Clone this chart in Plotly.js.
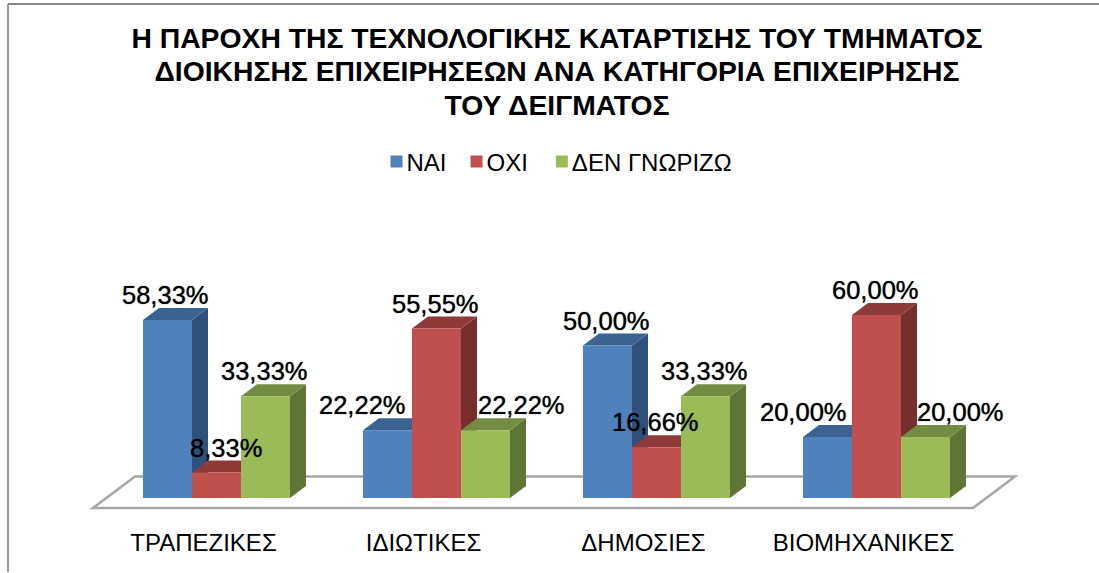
<!DOCTYPE html>
<html><head><meta charset="utf-8">
<script src="https://cdn.plot.ly/plotly-3.0.1.min.js"></script>
<style>html,body{margin:0;padding:0;background:#fff}#c{width:1099px;height:573px}</style>
</head><body><div id="c"></div>
<script>
const categories = ["ΤΡΑΠΕΖΙΚΕΣ","ΙΔΙΩΤΙΚΕΣ","ΔΗΜΟΣΙΕΣ","ΒΙΟΜΗΧΑΝΙΚΕΣ"];
const seriesNames = ["ΝΑΙ","ΟΧΙ","ΔΕΝ ΓΝΩΡΙΖΩ"];
const nai = [58.33,22.22,50.00,20.00];
const ochi = [8.33,55.55,16.66,60.00];
const dg = [33.33,22.22,33.33,20.00];
const titleText = "Η ΠΑΡΟΧΗ ΤΗΣ ΤΕΧΝΟΛΟΓΙΚΗΣ ΚΑΤΑΡΤΙΣΗΣ ΤΟΥ ΤΜΗΜΑΤΟΣ<br>ΔΙΟΙΚΗΣΗΣ ΕΠΙΧΕΙΡΗΣΕΩΝ ΑΝΑ ΚΑΤΗΓΟΡΙΑ ΕΠΙΧΕΙΡΗΣΗΣ<br>ΤΟΥ ΔΕΙΓΜΑΤΟΣ";

const series = [nai, ochi, dg];
const front = ["#4f81bd","#c0504d","#9bbb59"];
const topC = ["#3a6391","#8e3a38","#738c42"];
const sideC = ["#2f507a","#772f2d","#5f7536"];
const FONT='Liberation Sans, Arial, sans-serif';
const W=1099,H=573, L=80,R=1030,T=270,B=512, base=498, pxX=220, pxY=3.05, cx0=216.5;
const bw=49/pxX, dx=16/pxX, dy=12/pxY;
const xr=[(L-cx0)/pxX,(R-cx0)/pxX], yr=[(base-B)/pxY,(base-T)/pxY];
// manual label placement of the original chart, in px relative to bar centre
const labelShift=[[-2,9,-1],[-25,-1,36],[-1,-1,-1],[-24,-1,35]];
const tickShift=-13/pxX;

const shapes=[];
const px=x=>(x-cx0)/pxX, py=y=>(base-y)/pxY;
shapes.push({type:'path',layer:'below',xref:'x',yref:'y',
  path:`M${px(135)},${py(476.5)} L${px(1015)},${py(476.5)} L${px(973)},${py(508)} L${px(93)},${py(508)} Z`,
  fillcolor:'#fff',line:{color:'#a6a6a6',width:2.5}});
series.forEach((vals,s)=>{
  vals.forEach((v,c)=>{
    const x0=c+(s-1.5)*bw, x1=x0+bw;
    shapes.push({type:'path',layer:'below',xref:'x',yref:'y',line:{width:0},fillcolor:sideC[s],
      path:`M${x1},0 L${x1+dx},${dy} L${x1+dx},${v+dy} L${x1},${v} Z`});
    shapes.push({type:'path',layer:'below',xref:'x',yref:'y',line:{width:0},fillcolor:topC[s],
      path:`M${x0},${v} L${x0+dx},${v+dy} L${x1+dx},${v+dy} L${x1},${v} Z`});
  });
});
// outer frame
const fx=(8-L)/(R-L), ftop=(B-4)/(B-T);
shapes.push({type:'line',xref:'paper',yref:'paper',x0:fx,x1:fx,y0:-(572-B)/(B-T),y1:ftop,line:{color:'#9a9a9a',width:2}});
shapes.push({type:'line',xref:'paper',yref:'paper',x0:fx,x1:(W-L)/(R-L),y0:ftop,y1:ftop,line:{color:'#868686',width:2}});

const annotations=[];
series.forEach((vals,s)=>vals.forEach((v,c)=>{
  annotations.push({xref:'x',yref:'y',x:c+(s-1)*bw+labelShift[c][s]/pxX,y:v,yshift:25,
    text:v.toFixed(2).replace('.',',')+'%',showarrow:false,xanchor:'center',yanchor:'middle',
    font:{family:FONT,size:25.5,color:'#000',shadow:'0 0 1px rgba(0,0,0,0.8)'}});
}));

const traces=series.map((vals,s)=>({type:'bar',name:seriesNames[s],x:[0,1,2,3],y:vals,
  marker:{color:front[s],line:{width:0}},hoverinfo:'skip'}));

Plotly.newPlot('c',traces,{
  width:W,height:H,paper_bgcolor:'#fff',plot_bgcolor:'rgba(0,0,0,0)',
  margin:{l:L,r:W-R,t:T,b:H-B,pad:0},
  barmode:'group',bargap:1-3*bw,bargroupgap:0,
  title:{text:titleText,x:557/W,xanchor:'center',y:1-71/H,yanchor:'middle',
    font:{family:FONT,size:28.3,color:'#000',weight:'bold'}},
  showlegend:true,
  legend:{orientation:'h',x:(560-L)/(R-L),xanchor:'center',y:(B-162)/(B-T),yanchor:'middle',
    font:{family:FONT,size:24,color:'#000'},itemwidth:30,traceorder:'normal',bgcolor:'rgba(0,0,0,0)'},
  xaxis:{range:xr,tickmode:'array',tickvals:[0,1,2,3].map(i=>i+tickShift),ticktext:categories,showgrid:false,zeroline:false,showline:false,
    ticks:'',ticklen:0,ticklabelstandoff:14,tickfont:{family:FONT,size:24,color:'#000'}},
  yaxis:{range:yr,showgrid:false,zeroline:false,showline:false,showticklabels:false,ticks:''},
  shapes,annotations
},{displayModeBar:false,staticPlot:true}).then(()=>{
  // original title has tighter leading than Plotly's fixed 1.3em
  document.querySelectorAll('.gtitle tspan.line').forEach((t,i)=>{
    t.setAttribute('dy',(i*33.5-23.5)+'px');
  });
  // original legend keeps swatch and text closer than Plotly's fixed gap
  const itemNudge=[5,0,-1];
  document.querySelectorAll('.legend .traces').forEach((g,i)=>{
    const m=/translate\(([-\d.]+)[ ,]+([-\d.]+)\)/.exec(g.getAttribute('transform')||'');
    if(m) g.setAttribute('transform',`translate(${+m[1]+itemNudge[i]},${m[2]})`);
    const t=g.querySelector('.legendtext');
    if(t) t.setAttribute('x',(+t.getAttribute('x'))-10);
  });
});
</script></body></html>
